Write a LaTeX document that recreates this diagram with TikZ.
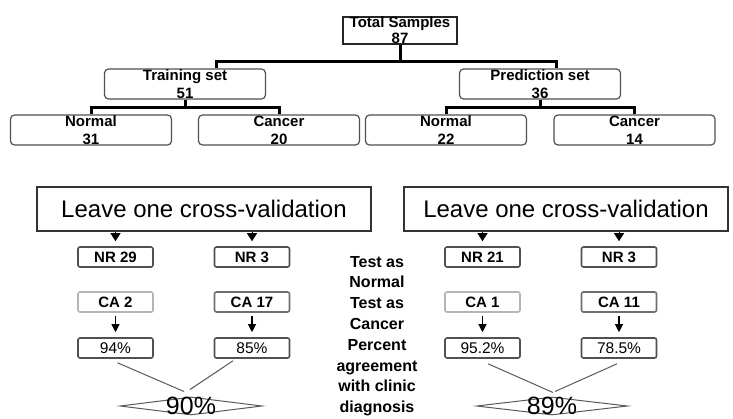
\documentclass[tikz,border=0pt]{standalone}
\usepackage{fontspec}
\setmainfont{Liberation Sans}
\usetikzlibrary{positioning,arrows.meta,calc,shapes.geometric}
\definecolor{boxgray}{HTML}{505050}
\definecolor{midgray}{HTML}{6E6E6E}
\definecolor{palegray}{HTML}{B4B4B4}
\definecolor{fangray}{HTML}{5A5A5A}

\begin{document}
\begin{tikzpicture}[x=1pt, y=-1pt,
    treebox/.style={draw=boxgray, line width=1.2pt, rounded corners=4pt, minimum width=161pt,
      minimum height=30pt, inner sep=0pt, align=center, font=\fontsize{15}{18}\selectfont\bfseries},
    rootbox/.style={draw=black!85, line width=1.2pt, minimum width=114pt, minimum height=25pt,
      inner sep=0pt, align=center, font=\fontsize{15}{16}\selectfont\bfseries},
    cvbox/.style={draw=black!80, line width=1.3pt, minimum height=44pt, inner sep=0pt,
      font=\fontsize{24}{28}\selectfont},
    countbox/.style={draw=boxgray, line width=1.6pt, rounded corners=2pt, minimum width=75pt,
      minimum height=20pt, inner sep=0pt, font=\fontsize{15}{17}\selectfont\bfseries},
    pctbox/.style={countbox, font=\fontsize{15.5}{17}\selectfont},
    link/.style={line width=3pt, black},
    cvarrow/.style={line width=1pt, -{Triangle[width=10pt,length=8pt]}, shorten >=5pt},
    dnarrow/.style={line width=1.1pt, -{Triangle[width=8pt,length=8pt]}, shorten <=3pt, shorten >=5pt},
    fanline/.style={fangray, line width=1pt},
    pctdiamond/.style={diamond, draw=fangray, line width=1pt, minimum width=#1, minimum height=18pt,
      inner sep=0pt},
    bigpct/.style={inner sep=0pt, font=\fontsize{25}{28}\selectfont},
    notes/.style={align=center, inner sep=0pt, font=\fontsize{16}{20.8}\selectfont\bfseries}]
  \useasboundingbox (0,0) rectangle (733,418);

  % sample tree
  \node[rootbox] (total) at (400,30.5) {Total Samples\\87};
  \node[treebox] (train) at (185,84) {Training set\\51};
  \node[treebox] (pred) at (540,84) {Prediction set\\36};
  \node[treebox] (trnorm) at (91,130) {Normal\\31};
  \node[treebox] (trcanc) at (279,130) {Cancer\\20};
  \node[treebox] (prnorm) at (446,130) {Normal\\22};
  \node[treebox] (prcanc) at (634.5,130) {Cancer\\14};

  \coordinate (rootsplit) at (400,61);
  \coordinate (trsplit) at (185,107);
  \coordinate (prsplit) at (540,107);
  \draw[link] (total.south) -- (rootsplit);
  \draw[link] (rootsplit) -| ($(train.north)+(31,0)$);
  \draw[link] (rootsplit) -| ($(pred.north)+(16,0)$);
  \draw[link] (train.south) -- (trsplit);
  \draw[link] (trsplit) -| (trnorm.north);
  \draw[link] (trsplit) -| (trcanc.north);
  \draw[link] (pred.south) -- (prsplit);
  \draw[link] (prsplit) -| (prnorm.north);
  \draw[link] (prsplit) -| (prcanc.north);

  % cross-validation
  \node[cvbox, minimum width=334pt] (cvleft) at (204,209) {Leave one cross-validation};
  \node[cvbox, minimum width=324pt] (cvright) at (566,209) {Leave one cross-validation};

  \node[countbox] (nr29) at (115.5,257) {NR 29};
  \node[countbox] (nr3a) at (252,257) {NR 3};
  \node[countbox, draw=palegray] (ca2) at (115.5,302) {CA 2};
  \node[countbox, draw=midgray] (ca17) at (252,302) {CA 17};
  \node[pctbox] (pc94) at (115.5,348) {94\%};
  \node[pctbox] (pc85) at (252,348) {85\%};

  \node[countbox] (nr21) at (482.5,257) {NR 21};
  \node[countbox] (nr3b) at (619,257) {NR 3};
  \node[countbox, draw=palegray] (ca1) at (482.5,302) {CA 1};
  \node[countbox, draw=midgray] (ca11) at (619,302) {CA 11};
  \node[pctbox] (pc952) at (482.5,348) {95.2\%};
  \node[pctbox] (pc785) at (619,348) {78.5\%};

  \draw[cvarrow] (nr29 |- cvleft.south) -- (nr29.north);
  \draw[cvarrow] (nr3a |- cvleft.south) -- (nr3a.north);
  \draw[cvarrow] (nr21 |- cvright.south) -- (nr21.north);
  \draw[cvarrow] (nr3b |- cvright.south) -- (nr3b.north);
  \draw[dnarrow] (ca2.south) -- (pc94.north);
  \draw[dnarrow] (ca17.south) -- (pc85.north);
  \draw[dnarrow] (ca1.south) -- (pc952.north);
  \draw[dnarrow] (ca11.south) -- (pc785.north);

  \node[notes] (legend) at (377,336) {Test as\\Normal\\Test as\\Cancer\\Percent\\agreement\\with clinic\\diagnosis};

  % overall agreement
  \node[pctdiamond=142pt, label={[bigpct]center:90\%}] (dia1) at (191,406) {};
  \node[pctdiamond=151pt, label={[bigpct]center:89\%}] (dia2) at (552,406) {};
  \draw[fanline] ($(pc94.south)+(2,4)$) -- ($(dia1.north)+(-7,-5)$);
  \draw[fanline] ($(pc85.south)+(-19,2)$) -- ($(dia1.north)+(-1,-7)$);
  \draw[fanline] ($(pc952.south)+(5.5,5)$) -- ($(dia2.north)+(1,-4)$);
  \draw[fanline] ($(pc785.south)+(-2,5)$) -- ($(dia2.north)+(3,-5)$);
\end{tikzpicture}
\end{document}
